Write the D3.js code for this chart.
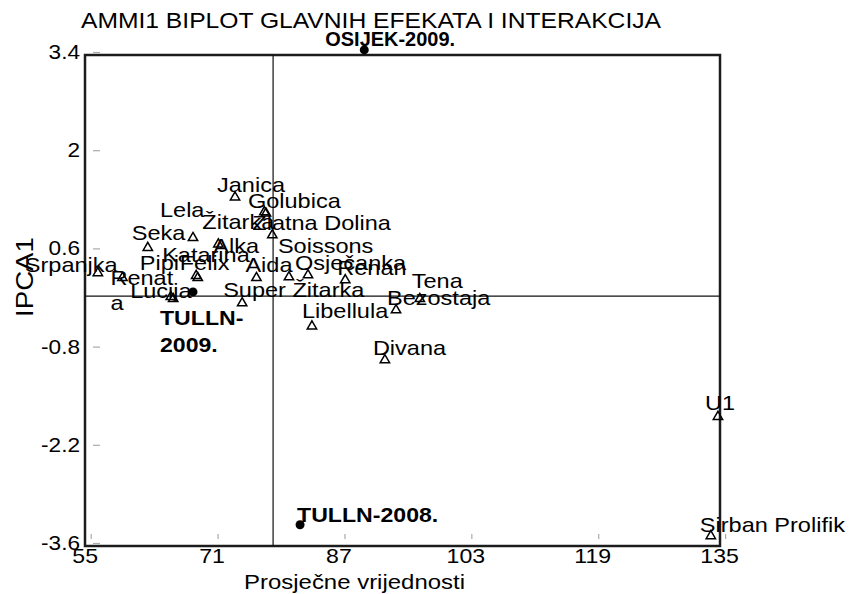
<!DOCTYPE html>
<html>
<head>
<meta charset="utf-8">
<script src="https://cdn.jsdelivr.net/npm/d3@7"></script>
<style>
  body { margin: 0; background: #fff; }
  text { font-family: "Liberation Sans", Arial, sans-serif; fill: #000; }
</style>
</head>
<body>
<svg id="chart" width="849" height="594"></svg>
<script>
// Genotypes: mean yield and first interaction principal component score
const genotypes = ["Srpanjka", "Renata", "Lucija", "Pipi", "Felix", "Katarina", "Seka", "Lela",
  "Žitarka", "Alka", "Janica", "Golubica", "Zlatna Dolina", "Soissons", "Aida", "Osječanka",
  "Renan", "Super Žitarka", "Libellula", "Tena", "Bezostaja", "Divana", "U1", "Sirban Prolifik"];
const genotypeMean = [55.9, 59.0, 65.4, 65.1, 68.5, 68.3, 62.2, 67.9,
  76.9, 71.1, 73.2, 77.1, 77.9, 80.0, 75.9, 82.4,
  87.1, 74.1, 82.9, 96.5, 93.5, 92.1, 134.1, 133.2];
const genotypeIPCA1 = [0.25, 0.18, -0.12, -0.09, 0.18, 0.21, 0.61, 0.75,
  1.12, 0.66, 1.33, 1.10, 0.79, 0.19, 0.18, 0.22,
  0.15, -0.18, -0.51, -0.12, -0.28, -0.99, -1.80, -3.50];

// Environments
const environments = ["OSIJEK-2009.", "TULLN-2008.", "TULLN-2009."];
const environmentMean = [89.5, 81.4, 67.9];
const environmentIPCA1 = [3.43, -3.34, -0.02];

// Axes
const xTicks = [55, 71, 87, 103, 119, 135];
const yTicks = [3.4, 2, 0.6, -0.8, -2.2, -3.6];
const grandMean = 78.0;
const ipcaRefLine = -0.08;

// Label placement relative to each mark (start of text, baseline)
const genotypeLabelOffset = [
  [-73, -1], [-12, 7], [-43, -1], [-31, -27], [-18, -8], [-34, -14], [-16, -8], [-33, -21],
  [-62, 17], [-5, 9], [-18, -5], [-18, -5], [-20, -5], [-11, -24], [-11, -6], [-13, -5],
  [-8, -5], [-19, -6], [-10, -8], [-8, -11], [-9, -5], [-12, -5], [-13, -7], [-11, -4]
];
const environmentLabelOffset = [[-39, -4], [-3, -3], [-33, 33]];
const wrappedLabels = { "Renata": ["Renat", "a"], "TULLN-2009.": ["TULLN-", "2009."] };

const svg = d3.select("#chart");
const frame = { left: 85, right: 720, top: 55, bottom: 546 };

const x = d3.scaleLinear().domain([55, 135]).range([90.7, 725.1]);
const y = d3.scaleLinear().domain([3.4, -3.6]).range([52, 543]);

// Widen text horizontally by factor k
function widen(sel, k) {
  sel.each(function () {
    const L = this.getComputedTextLength();
    d3.select(this).attr("textLength", L * k).attr("lengthAdjust", "spacingAndGlyphs");
  });
}

// Frame
svg.append("rect")
  .attr("x", frame.left).attr("y", frame.top)
  .attr("width", frame.right - frame.left).attr("height", frame.bottom - frame.top)
  .attr("fill", "none").attr("stroke", "#1c1c1c").attr("stroke-width", 2.5);

// Reference lines through the grand mean and the IPCA1 origin
svg.append("line")
  .attr("x1", x(grandMean)).attr("x2", x(grandMean))
  .attr("y1", frame.top).attr("y2", frame.bottom)
  .attr("stroke", "#111").attr("stroke-width", 1.2);
svg.append("line")
  .attr("x1", frame.left).attr("x2", frame.right)
  .attr("y1", y(ipcaRefLine)).attr("y2", y(ipcaRefLine))
  .attr("stroke", "#111").attr("stroke-width", 1.2);

// Y axis
const yAxis = svg.append("g")
  .attr("transform", "translate(100,0)")
  .call(d3.axisLeft(y).tickValues(yTicks).tickSize(7).tickPadding(13).tickFormat(d => String(d)));
yAxis.select(".domain").remove();
yAxis.selectAll(".tick line").attr("stroke", "#aaa").attr("stroke-width", 1.2);
yAxis.selectAll(".tick text")
  .attr("font-size", 20).attr("font-family", "Liberation Sans, Arial, sans-serif").attr("fill", "#000")
  .call(widen, 1.13);

// X axis
const xAxis = svg.append("g")
  .attr("transform", "translate(0,539)")
  .call(d3.axisBottom(x).tickValues(xTicks).tickSize(-5).tickPadding(9).tickFormat(d => String(d)));
xAxis.select(".domain").remove();
xAxis.selectAll(".tick line").attr("stroke", "#aaa").attr("stroke-width", 1.2);
xAxis.selectAll(".tick text")
  .attr("font-size", 21).attr("font-family", "Liberation Sans, Arial, sans-serif").attr("fill", "#000")
  .attr("dx", -6)
  .call(widen, 1.1);

// Titles
svg.append("text").attr("x", 81).attr("y", 28).attr("font-size", 22)
  .attr("textLength", 580).attr("lengthAdjust", "spacingAndGlyphs")
  .text("AMMI1 BIPLOT GLAVNIH EFEKATA I INTERAKCIJA");
svg.append("text").attr("x", 244).attr("y", 589).attr("font-size", 21)
  .attr("textLength", 221).attr("lengthAdjust", "spacingAndGlyphs")
  .text("Prosječne vrijednosti");
svg.append("text").attr("transform", "translate(33,277) rotate(-90)")
  .attr("text-anchor", "middle").attr("font-size", 24)
  .text("IPCA1").call(widen, 1.15);

// Labels
function drawLabel(name, px, py, off, opts) {
  const lines = wrappedLabels[name] || [name];
  lines.forEach((line, i) => {
    svg.append("text")
      .attr("x", px + off[0]).attr("y", py + off[1] + i * opts.lineHeight)
      .attr("font-size", opts.size).attr("font-weight", opts.weight)
      .text(line).call(widen, opts.stretch);
  });
}

genotypes.forEach((g, i) => {
  drawLabel(g, x(genotypeMean[i]), y(genotypeIPCA1[i]), genotypeLabelOffset[i],
    { size: 21, weight: "normal", stretch: 1.12, lineHeight: 25 });
});
environments.forEach((e, i) => {
  drawLabel(e, x(environmentMean[i]), y(environmentIPCA1[i]), environmentLabelOffset[i],
    { size: 21, weight: "bold", stretch: i === 0 ? 0.95 : 1.1, lineHeight: 27 });
});

// Genotype markers
const tri = d3.symbol().type(d3.symbolTriangle).size(38);
svg.append("g").selectAll("path")
  .data(genotypes.map((g, i) => [genotypeMean[i], genotypeIPCA1[i]]))
  .join("path")
  .attr("transform", d => `translate(${x(d[0])},${y(d[1])})`)
  .attr("d", tri)
  .attr("fill", "none").attr("stroke", "#000").attr("stroke-width", 1.5);

// Environment markers
svg.append("g").selectAll("circle")
  .data(environments.map((e, i) => [environmentMean[i], environmentIPCA1[i]]))
  .join("circle")
  .attr("cx", d => x(d[0])).attr("cy", d => y(d[1]))
  .attr("r", 4.5).attr("fill", "#000");
</script>
</body>
</html>
